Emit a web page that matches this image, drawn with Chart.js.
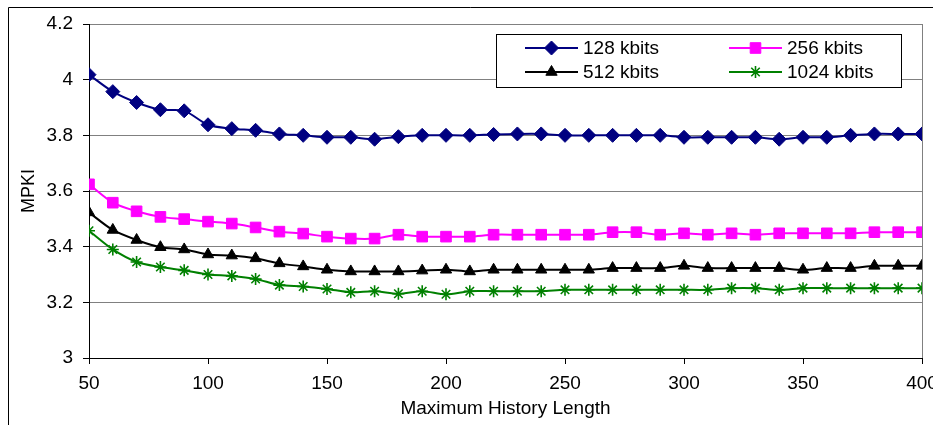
<!DOCTYPE html>
<html>
<head>
<meta charset="utf-8">
<script src="https://cdn.jsdelivr.net/npm/chart.js@4/dist/chart.umd.min.js"></script>
<style>
  html, body { margin: 0; padding: 0; background: #fff; }
  #wrap { width: 933px; height: 425px; position: relative; }
</style>
</head>
<body>
<div id="wrap"><canvas id="mpkiChart" width="933" height="425"></canvas></div>
<script>
// History lengths on the x axis
const historyLengths = [50, 60, 70, 80, 90, 100, 110, 120, 130, 140, 150, 160, 170, 180, 190, 200, 210, 220,
    230, 240, 250, 260, 270, 280, 290, 300, 310, 320, 330, 340, 350, 360, 370, 380, 390, 400];

const mpki128 = [4.018, 3.957, 3.918, 3.892, 3.888, 3.838, 3.824, 3.818, 3.805, 3.800, 3.793, 3.793, 3.786, 3.795,
    3.800, 3.800, 3.800, 3.803, 3.805, 3.805, 3.800, 3.800, 3.800, 3.800, 3.800, 3.793, 3.793, 3.793, 3.793, 3.786,
    3.793, 3.793, 3.800, 3.805, 3.805, 3.805];
const mpki256 = [3.624, 3.558, 3.527, 3.507, 3.499, 3.490, 3.483, 3.469, 3.454, 3.447, 3.436, 3.429, 3.429, 3.443,
    3.436, 3.436, 3.436, 3.443, 3.443, 3.443, 3.443, 3.443, 3.452, 3.452, 3.443, 3.448, 3.443, 3.448, 3.443, 3.448,
    3.448, 3.448, 3.448, 3.452, 3.452, 3.452];
const mpki512 = [3.523, 3.460, 3.424, 3.398, 3.390, 3.372, 3.368, 3.358, 3.340, 3.329, 3.317, 3.311, 3.311, 3.311,
    3.314, 3.317, 3.311, 3.317, 3.317, 3.317, 3.317, 3.317, 3.323, 3.323, 3.323, 3.331, 3.323, 3.323, 3.323, 3.323,
    3.317, 3.323, 3.323, 3.331, 3.331, 3.331];
const mpki1024 = [3.457, 3.390, 3.345, 3.327, 3.315, 3.300, 3.295, 3.284, 3.262, 3.257, 3.248, 3.236, 3.240, 3.231,
    3.240, 3.229, 3.240, 3.240, 3.240, 3.240, 3.245, 3.245, 3.245, 3.245, 3.245, 3.245, 3.245, 3.251, 3.251, 3.245,
    3.251, 3.251, 3.251, 3.251, 3.251, 3.251];

// Tick labels
const xTicks = [50, 100, 150, 200, 250, 300, 350, 400];
const yTicks = [3, 3.2, 3.4, 3.6, 3.8, 4, 4.2];

const FONT = "'Liberation Sans', Arial, sans-serif";

function series(label, values, color, style, radius) {
    return {
        label: label,
        data: historyLengths.map((x, i) => ({ x: x, y: values[i] })),
        borderColor: color,
        backgroundColor: color,
        borderWidth: 2,
        tension: 0.3,
        pointStyle: style,
        pointRadius: radius,
        pointBorderWidth: style === 'star' ? 1.6 : 1,
        pointBackgroundColor: color,
        pointBorderColor: color
    };
}

const datasets = [
    series('128 kbits', mpki128, '#000080', 'rectRot', 7),
    series('256 kbits', mpki256, '#FF00FF', 'rect', 7.5),
    series('512 kbits', mpki512, '#000000', 'triangle', 6.5),
    series('1024 kbits', mpki1024, '#008000', 'star', 6)
];

// Frame lines, right plot border and the boxed two-column legend
const decorations = {
    id: 'decorations',
    afterDatasetsDraw(chart) {
        const ctx = chart.ctx;
        const area = chart.chartArea;
        ctx.save();
        ctx.strokeStyle = '#808080';
        ctx.lineWidth = 1;
        ctx.beginPath();
        ctx.moveTo(Math.round(area.right) + 0.5, area.top);
        ctx.lineTo(Math.round(area.right) + 0.5, area.bottom);
        ctx.stroke();

        ctx.strokeStyle = '#000';
        ctx.beginPath();
        ctx.moveTo(8.5, 425);
        ctx.lineTo(8.5, 7.5);
        ctx.lineTo(933, 7.5);
        ctx.stroke();

        // legend box
        ctx.fillStyle = '#fff';
        ctx.fillRect(496, 34, 406, 54);
        ctx.strokeStyle = '#000';
        ctx.strokeRect(496.5, 34.5, 405, 53);

        const slots = [
            { x: 525, y: 48 }, { x: 729, y: 48 },
            { x: 525, y: 72 }, { x: 729, y: 72 }
        ];
        ctx.font = '19px ' + FONT;
        ctx.textBaseline = 'middle';
        ctx.textAlign = 'left';
        chart.data.datasets.forEach((ds, i) => {
            const s = slots[i];
            ctx.strokeStyle = ds.borderColor;
            ctx.lineWidth = 2;
            ctx.beginPath();
            ctx.moveTo(s.x, s.y);
            ctx.lineTo(s.x + 53, s.y);
            ctx.stroke();
            ctx.fillStyle = ds.pointBackgroundColor;
            ctx.strokeStyle = ds.pointBorderColor;
            ctx.lineWidth = ds.pointBorderWidth;
            Chart.helpers.drawPoint(ctx, {
                pointStyle: ds.pointStyle,
                radius: ds.pointRadius,
                rotation: 0,
                borderWidth: ds.pointBorderWidth
            }, s.x + 26.5, s.y);
            ctx.fillStyle = '#000';
            ctx.fillText(ds.label, s.x + 58, s.y + 1);
        });
        ctx.restore();
    }
};

new Chart(document.getElementById('mpkiChart').getContext('2d'), {
    type: 'line',
    data: { datasets: datasets },
    plugins: [decorations],
    options: {
        responsive: false,
        animation: false,
        layout: { padding: { top: 24, right: 11, left: 0, bottom: 0 } },
        plugins: { legend: { display: false }, tooltip: { enabled: false } },
        scales: {
            x: {
                type: 'linear',
                min: 50,
                max: 400,
                afterBuildTicks: s => { s.ticks = xTicks.map(v => ({ value: v })); },
                afterFit: s => { s.height = 67; s.paddingLeft = 0; s.paddingRight = 0; },
                grid: { drawOnChartArea: false, tickLength: 6, tickColor: '#000', color: '#000' },
                border: { color: '#000', width: 1 },
                ticks: { color: '#000', font: { family: FONT, size: 19 }, padding: 8, maxRotation: 0 },
                title: {
                    display: true,
                    text: 'Maximum History Length',
                    color: '#000',
                    font: { family: FONT, size: 19 },
                    padding: { top: 0, bottom: 5 }
                }
            },
            y: {
                min: 3,
                max: 4.2,
                afterBuildTicks: s => { s.ticks = yTicks.map(v => ({ value: v })); },
                afterFit: s => { s.width = 89; s.paddingTop = 0; s.paddingBottom = 0; },
                grid: { color: '#808080', tickLength: 6, tickColor: '#000', lineWidth: 1 },
                border: { color: '#000', width: 1 },
                ticks: {
                    color: '#000',
                    font: { family: FONT, size: 19 },
                    padding: 10,
                    callback: v => String(+Number(v).toFixed(1))
                },
                title: {
                    display: true,
                    text: 'MPKI',
                    color: '#000',
                    font: { family: FONT, size: 18 },
                    padding: { top: 18, bottom: 0 }
                }
            }
        }
    }
});
</script>
</body>
</html>
